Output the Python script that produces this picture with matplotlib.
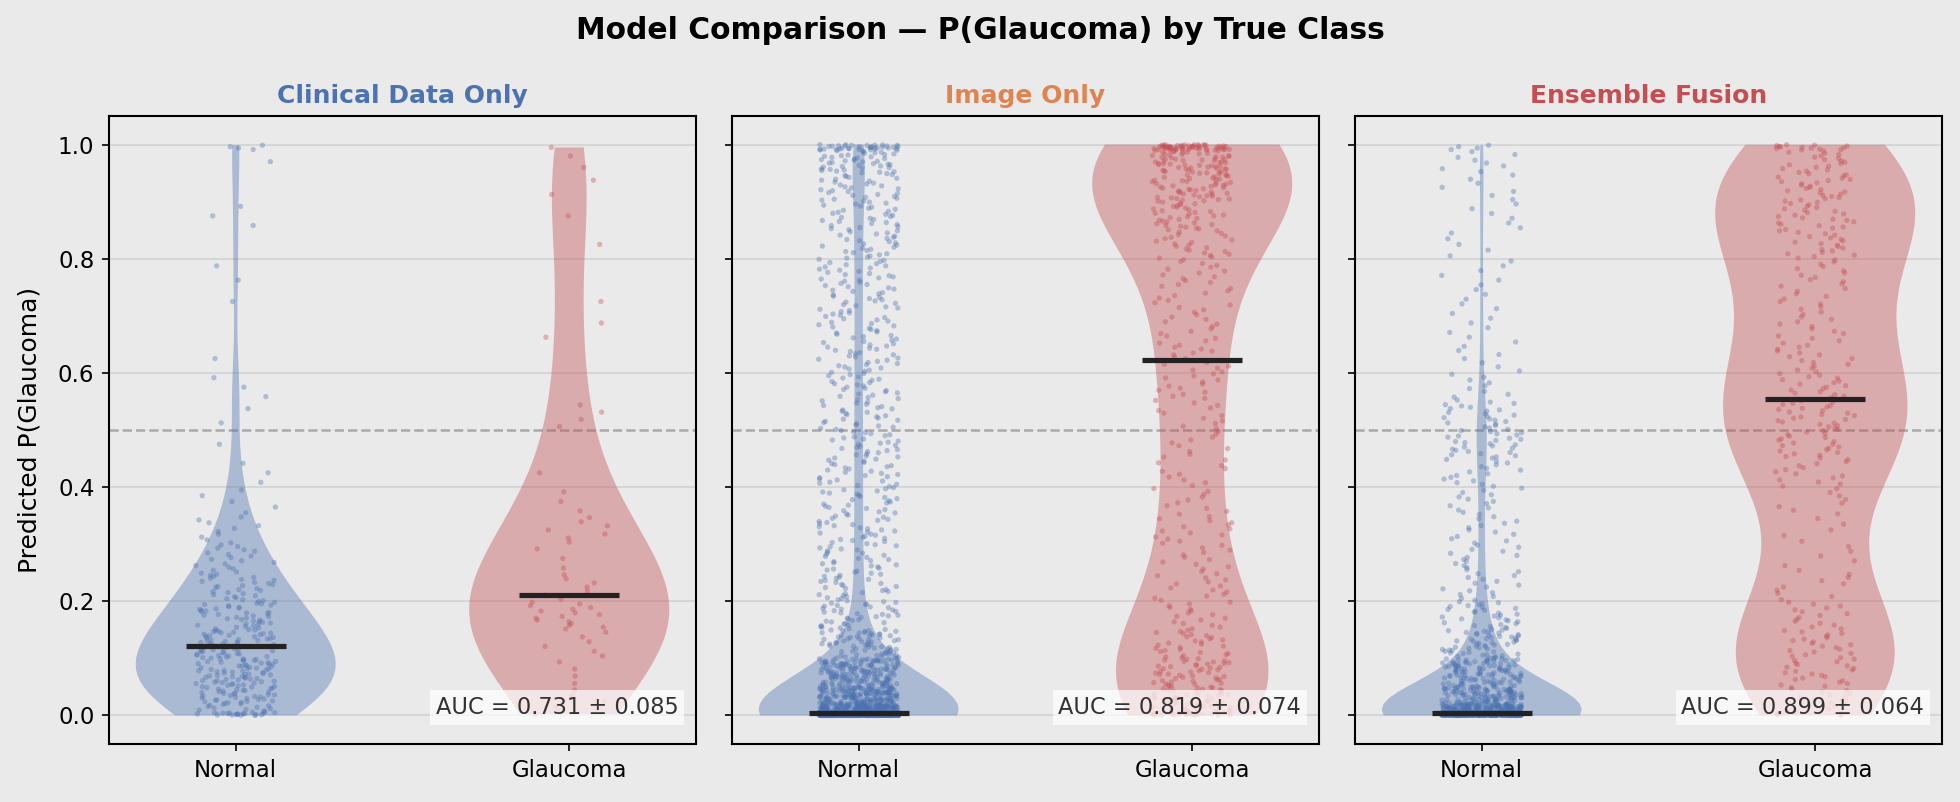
import numpy as np
import matplotlib
matplotlib.use("Agg")
import matplotlib.pyplot as plt

# ---------------- data ----------------
# shared value bins for P(Glaucoma); counts per bin per group
BIN_EDGES = [0.0, 0.005, 0.02, 0.05, 0.10, 0.15, 0.20, 0.25, 0.30, 0.35, 0.40, 0.45,
             0.50, 0.55, 0.60, 0.65, 0.70, 0.75, 0.80, 0.85, 0.90, 0.95, 0.99, 1.0]

clinical_normal   = [18, 12, 35, 63, 55, 40, 28, 18, 10, 5, 3, 1, 2, 3, 1, 0, 1, 2, 0, 3, 0, 1, 4]
clinical_glaucoma = [1, 2, 3, 4, 6, 16, 7, 3, 7, 3, 1, 0, 4, 0, 0, 2, 1, 0, 1, 1, 2, 2, 1]
image_normal      = [1300, 180, 170, 170, 65, 38, 28, 27, 27, 26, 26, 27, 25, 25, 26, 24, 24,
                     26, 26, 28, 30, 40, 35]
image_glaucoma    = [20, 20, 34, 43, 27, 16, 14, 12, 14, 10, 10, 10, 11, 14, 15, 12, 12, 15,
                     22, 33, 50, 55, 55]
ensemble_normal   = [700, 150, 110, 110, 50, 30, 15, 14, 13, 13, 16, 26, 22, 10, 7, 6, 6, 6,
                       5, 6, 7, 8, 4]
ensemble_glaucoma = [5, 6, 12, 21, 20, 15, 9, 6, 5, 8, 14, 21, 23, 19, 15, 12, 11, 13, 20, 22,
                     25, 18, 13]

panel_titles = ["Clinical Data Only", "Image Only", "Ensemble Fusion"]
auc_mean = [0.731, 0.819, 0.899]
auc_std = [0.085, 0.074, 0.064]
class_labels = ["Normal", "Glaucoma"]
panel_data = [(clinical_normal, clinical_glaucoma),
              (image_normal, image_glaucoma),
              (ensemble_normal, ensemble_glaucoma)]

# ---------------- style ----------------
BG = "#EAEAEA"
C_NORMAL = "#4C72B0"
C_GLAUC = "#C44E52"
TITLE_COLORS = ["#4C72B0", "#DD8452", "#C44E52"]

plt.rcParams["font.family"] = ["DejaVu Sans"]


def expand(counts):
    """values spread evenly inside each bin"""
    out = []
    for lo, hi, k in zip(BIN_EDGES[:-1], BIN_EDGES[1:], counts):
        if k > 0:
            out.append(lo + (np.arange(k) + 0.5) / k * (hi - lo))
    return np.concatenate(out)


def jitter(n, seed):
    i = np.arange(n) + 1.0
    u = np.sin(i * 12.9898 + seed * 78.233) * 43758.5453
    return u - np.floor(u)


fig, axes = plt.subplots(1, 3, figsize=(1960 / 150, 802 / 150), dpi=150, sharey=True)
fig.patch.set_facecolor(BG)
fig.subplots_adjust(left=0.0556, right=0.9908, top=0.8554, bottom=0.0723, wspace=0.0613)

for p, ax in enumerate(axes):
    ax.set_facecolor(BG)
    ax.set_axisbelow(True)
    ax.yaxis.grid(True, color="#d6d6d6", lw=1.0, zorder=0)
    ax.xaxis.grid(False)
    for s in ax.spines.values():
        s.set_color("black")
        s.set_linewidth(1.0)

    vals = [expand(c) for c in panel_data[p]]
    vp = ax.violinplot(vals, positions=[0, 1], widths=0.6, showmedians=True,
                       showextrema=False)
    for body, col in zip(vp["bodies"], [C_NORMAL, C_GLAUC]):
        body.set_facecolor(col)
        body.set_edgecolor("none")
        body.set_alpha(0.4)
        body.set_zorder(2)
    vp["cmedians"].set_color("#222222")
    vp["cmedians"].set_linewidth(2.5)
    vp["cmedians"].set_zorder(4)

    for k, (v, col) in enumerate(zip(vals, [C_NORMAL, C_GLAUC])):
        xj = k + (jitter(len(v), p * 2 + k + 1) - 0.5) * 0.24
        ax.scatter(xj, v, s=6.5, color=col, alpha=0.38, edgecolors="none", zorder=3)

    ax.axhline(0.5, color="#999999", ls="--", lw=1.2, alpha=0.8, zorder=1)

    ax.set_xticks([0, 1])
    ax.set_xticklabels(class_labels, fontsize=11)
    ax.tick_params(axis="y", labelsize=11)
    ax.set_xlim(-0.38, 1.38)
    ax.set_ylim(-0.05, 1.05)
    ax.set_title(panel_titles[p], color=TITLE_COLORS[p], fontsize=12, fontweight="bold")

    ax.text(0.97, 0.04, f"AUC = {auc_mean[p]:.3f} \u00b1 {auc_std[p]:.3f}",
            transform=ax.transAxes, ha="right", va="bottom", fontsize=10.8, color="#333333",
            bbox=dict(boxstyle="square,pad=0.25", facecolor="white", edgecolor="none",
                      alpha=0.7), zorder=6)

axes[0].set_ylabel("Predicted P(Glaucoma)", fontsize=12, labelpad=8)
fig.suptitle("Model Comparison \u2014 P(Glaucoma) by True Class", fontsize=14.3,
             fontweight="bold", y=0.98)

fig.savefig("out.png", dpi=150, facecolor=BG)
